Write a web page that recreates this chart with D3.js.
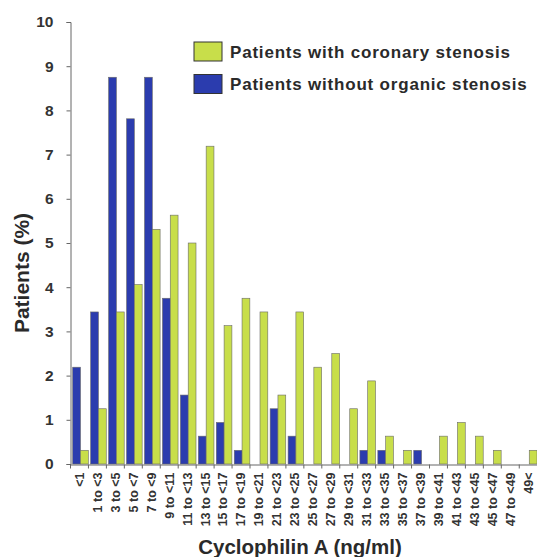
<!DOCTYPE html>
<html>
<head>
<meta charset="utf-8">
<script src="https://cdn.jsdelivr.net/npm/d3@7"></script>
<style>
  body { margin: 0; background: #fff; }
  svg { display: block; font-family: 'Liberation Sans', Arial, sans-serif; }
</style>
</head>
<body>
<div id="chart"></div>
<script>
const categories = ['<1', '1 to <3', '3 to <5', '5 to <7', '7 to <9', '9 to <11', '11 to <13',
  '13 to <15', '15 to <17', '17 to <19', '19 to <21', '21 to <23', '23 to <25', '25 to <27',
  '27 to <29', '29 to <31', '31 to <33', '33 to <35', '35 to <37', '37 to <39', '39 to <41',
  '41 to <43', '43 to <45', '45 to <47', '47 to <49', '49<'];

// Patients with coronary stenosis (green)
const withStenosis = [0.31, 1.25, 3.44, 4.06, 5.31, 5.63, 5.0, 7.19, 3.13, 3.75, 3.44, 1.56, 3.44,
  2.19, 2.5, 1.25, 1.88, 0.63, 0.31, 0, 0.63, 0.94, 0.63, 0.31, 0, 0.31];

// Patients without organic stenosis (blue)
const withoutStenosis = [2.19, 3.44, 8.75, 7.81, 8.75, 3.75, 1.56, 0.63, 0.94, 0.31, 0, 1.25, 0.63,
  0, 0, 0, 0.31, 0.31, 0, 0.31, 0, 0, 0, 0, 0, 0];

const yTicks = [0, 1, 2, 3, 4, 5, 6, 7, 8, 9, 10];

const seriesNames = ['without', 'with'];
const legendItems = [
  { key: 'with', label: 'Patients with coronary stenosis' },
  { key: 'without', label: 'Patients without organic stenosis' }
];

const width = 537;
const height = 557;
const colors = { with: '#c8de4a', without: '#2b3cae' };

const svg = d3.select('#chart').append('svg')
  .attr('width', width)
  .attr('height', height);

const x = d3.scaleBand()
  .domain(categories)
  .range([70.5, 70.5 + 26 * 17.95])
  .padding(0);

const xInner = d3.scaleBand()
  .domain(seriesNames)
  .range([2.2, 17.8]);

const y = d3.scaleLinear()
  .domain([0, 10])
  .range([464, 22]);

const rows = categories.map((c, i) => ({
  cat: c,
  with: withStenosis[i],
  without: withoutStenosis[i]
}));

// bars
const group = svg.append('g')
  .selectAll('g')
  .data(rows)
  .enter()
  .append('g')
  .attr('transform', d => `translate(${x(d.cat)},0)`);

group.selectAll('rect')
  .data(d => seriesNames.map(k => ({ key: k, value: d[k] })).filter(e => e.value > 0))
  .enter()
  .append('rect')
  .attr('x', d => xInner(d.key))
  .attr('width', xInner.bandwidth())
  .attr('y', d => y(d.value))
  .attr('height', d => y(0) - y(d.value))
  .attr('fill', d => colors[d.key])
  .attr('stroke', '#6a6a6a')
  .attr('stroke-width', 0.6);

// y axis
const yAxis = svg.append('g')
  .attr('transform', 'translate(70.5,0)')
  .call(d3.axisLeft(y).tickValues(yTicks).tickSize(4).tickPadding(13).tickFormat(d3.format('d')));

yAxis.select('.domain').attr('stroke', '#666');
yAxis.selectAll('.tick line').attr('stroke', '#666');
yAxis.selectAll('.tick text')
  .attr('font-size', 15.5)
  .attr('font-weight', 'bold')
  .attr('fill', '#333');

// x axis
const xAxis = svg.append('g')
  .attr('transform', `translate(0,${y(0) + 0.5})`)
  .call(d3.axisBottom(x).tickSize(0).tickPadding(0));

xAxis.select('.domain').attr('stroke', '#666');
xAxis.selectAll('.tick text')
  .attr('font-size', 12.5)
  .attr('font-weight', 'bold')
  .attr('fill', '#333')
  .attr('text-anchor', 'end')
  .attr('transform', 'rotate(-90)')
  .attr('x', -8)
  .attr('y', 0)
  .attr('dy', '0.35em');

// category boundary ticks
xAxis.append('g')
  .selectAll('line')
  .data(categories)
  .enter()
  .append('line')
  .attr('x1', d => x(d))
  .attr('x2', d => x(d))
  .attr('y1', 0)
  .attr('y2', 4)
  .attr('stroke', '#666');

// axis titles
svg.append('text')
  .attr('transform', 'translate(29,273) rotate(-90)')
  .attr('text-anchor', 'middle')
  .attr('font-size', 21)
  .attr('font-weight', 'bold')
  .attr('fill', '#2a2a2a')
  .text('Patients (%)');

svg.append('text')
  .attr('x', 300)
  .attr('y', 554)
  .attr('text-anchor', 'middle')
  .attr('font-size', 20.5)
  .attr('font-weight', 'bold')
  .attr('fill', '#2a2a2a')
  .text('Cyclophilin A (ng/ml)');

// legend
const legend = svg.append('g')
  .selectAll('g')
  .data(legendItems)
  .enter()
  .append('g')
  .attr('transform', (d, i) => `translate(194,${42 + i * 32.5})`);

legend.append('rect')
  .attr('width', 28)
  .attr('height', 19)
  .attr('fill', d => colors[d.key])
  .attr('stroke', '#333')
  .attr('stroke-width', 1);

legend.append('text')
  .attr('x', 36)
  .attr('y', 15.5)
  .attr('font-size', 17)
  .attr('font-weight', 'bold')
  .attr('letter-spacing', 0.8)
  .attr('fill', '#2a2a2a')
  .text(d => d.label);
</script>
</body>
</html>
